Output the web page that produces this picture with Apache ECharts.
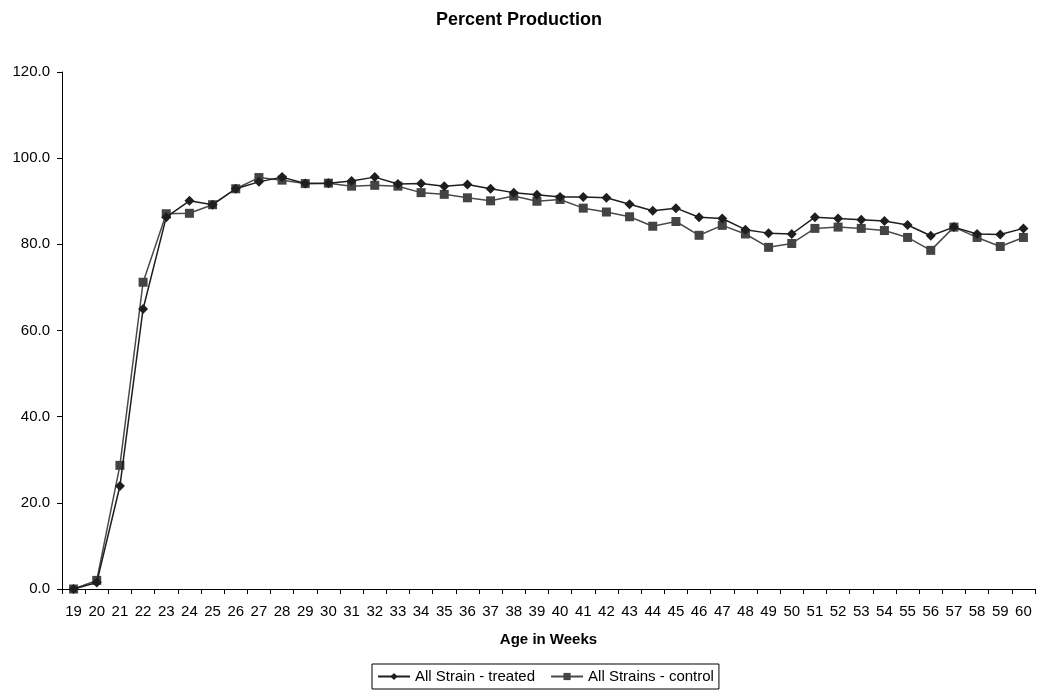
<!DOCTYPE html>
<html>
<head>
<meta charset="utf-8">
<script src="https://cdn.jsdelivr.net/npm/echarts@6/dist/echarts.min.js"></script>
<style>
  html, body { margin: 0; padding: 0; background: #fff; }
  #chart { width: 1038px; height: 690px; }
</style>
</head>
<body>
<div id="chart"></div>
<script>
// Age in weeks (category axis)
const weeks = [19,20,21,22,23,24,25,26,27,28,29,30,31,32,33,34,35,36,37,38,39,40,
               41,42,43,44,45,46,47,48,49,50,51,52,53,54,55,56,57,58,59,60];

// Percent production per week
const treated = [0.0,1.5,23.9,65.0,86.3,90.1,89.2,92.9,94.5,95.6,94.1,94.2,94.7,95.6,94.0,94.1,93.5,93.9,92.9,92.0,91.5,91.0,
                 91.0,90.8,89.3,87.8,88.4,86.3,86.0,83.4,82.6,82.4,86.3,86.0,85.7,85.4,84.5,82.0,84.0,82.4,82.3,83.7];
const control = [0.0,2.0,28.7,71.2,87.1,87.2,89.2,92.9,95.5,94.9,94.1,94.2,93.5,93.7,93.5,92.0,91.6,90.8,90.1,91.2,90.0,90.4,
                 88.4,87.5,86.4,84.2,85.3,82.1,84.4,82.4,79.3,80.2,83.7,84.0,83.7,83.2,81.6,78.6,84.0,81.6,79.5,81.6];

const FONT = '"Liberation Sans", Arial, sans-serif';

const chart = echarts.init(document.getElementById('chart'), null, { renderer: 'canvas' });
chart.setOption({
  backgroundColor: '#ffffff',
  animation: false,
  title: {
    text: 'Percent Production',
    left: 'center',
    top: 6,
    textStyle: { fontFamily: FONT, fontSize: 18, fontWeight: 'bold', color: '#000' }
  },
  legend: {
    top: 664,
    left: 372,
    itemWidth: 32,
    itemHeight: 9,
    itemGap: 15,
    padding: [5, 5, 5, 5],
    borderColor: '#000',
    borderWidth: 1,
    borderRadius: 0,
    textStyle: { fontFamily: FONT, fontSize: 15, color: '#000', padding: [0, 0, 0, 0] },
    data: ['All Strain - treated', 'All Strains - control']
  },
  grid: { left: 62, right: 3, top: 72, bottom: 101, containLabel: false },
  xAxis: {
    type: 'category',
    data: weeks,
    boundaryGap: true,
    name: 'Age in Weeks',
    nameLocation: 'middle',
    nameGap: 43,
    nameTextStyle: { fontFamily: FONT, fontSize: 15, fontWeight: 'bold', color: '#000' },
    axisLine: { lineStyle: { color: '#000', width: 1 } },
    axisTick: { show: true, length: 5, alignWithLabel: false, lineStyle: { color: '#000' } },
    axisLabel: { interval: 0, fontFamily: FONT, fontSize: 15, color: '#000', margin: 15 },
    splitLine: { show: false }
  },
  yAxis: {
    type: 'value',
    min: 0,
    max: 120,
    interval: 20,
    axisLine: { show: true, lineStyle: { color: '#000', width: 1 } },
    axisTick: { show: true, length: 5, lineStyle: { color: '#000' } },
    axisLabel: {
      fontFamily: FONT, fontSize: 15, color: '#000', margin: 12,
      formatter: v => v.toFixed(1)
    },
    splitLine: { show: false }
  },
  series: [
    {
      name: 'All Strain - treated',
      type: 'line',
      data: treated,
      symbol: 'diamond',
      symbolSize: 10,
      showAllSymbol: true,
      z: 3,
      lineStyle: { color: '#1e1e1e', width: 1.5 },
      itemStyle: { color: '#1e1e1e', borderWidth: 0 }
    },
    {
      name: 'All Strains - control',
      type: 'line',
      data: control,
      symbol: 'rect',
      symbolSize: 9,
      showAllSymbol: true,
      z: 2,
      lineStyle: { color: '#4a4a4a', width: 1.5 },
      itemStyle: { color: '#444444', borderWidth: 0 }
    }
  ]
});
</script>
</body>
</html>
